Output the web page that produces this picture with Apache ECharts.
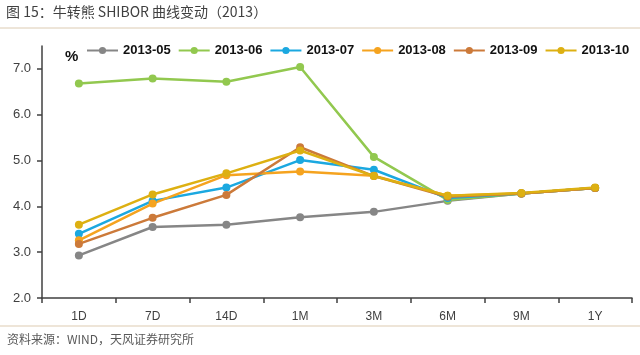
<!DOCTYPE html>
<html>
<head>
<meta charset="utf-8">
<script src="https://cdn.jsdelivr.net/npm/echarts@6/dist/echarts.min.js"></script>
<style>
html,body{margin:0;padding:0;background:#fff;}
#main{width:640px;height:355px;}
</style>
</head>
<body>
<div id="main"></div>
<script>
const categories = ['1D','7D','14D','1M','3M','6M','9M','1Y'];
const seriesNames = ['2013-05','2013-06','2013-07','2013-08','2013-09','2013-10'];
const s201305 = [2.93, 3.55, 3.60, 3.76, 3.88, 4.12, 4.28, 4.40];
const s201306 = [6.68, 6.79, 6.72, 7.04, 5.08, 4.14, 4.28, 4.40];
const s201307 = [3.40, 4.12, 4.41, 5.01, 4.80, 4.18, 4.28, 4.40];
const s201308 = [3.26, 4.06, 4.68, 4.76, 4.67, 4.23, 4.28, 4.40];
const s201309 = [3.18, 3.75, 4.25, 5.29, 4.66, 4.21, 4.28, 4.40];
const s201310 = [3.60, 4.26, 4.72, 5.22, 4.66, 4.23, 4.29, 4.41];
const yTicks = [2, 3, 4, 5, 6, 7];
const titleText = '图 15：牛转熊 SHIBOR 曲线变动（2013）';
const sourceText = '资料来源：WIND，天风证券研究所';

const colors = ['#868686', '#92c84f', '#1ba8e0', '#f5a31f', '#cc7a3a', '#ddb012'];
const allData = [s201305, s201306, s201307, s201308, s201309, s201310];

const chart = echarts.init(document.getElementById('main'), null, {renderer: 'canvas'});
chart.setOption({
  animation: false,
  backgroundColor: '#fff',
  color: colors,
  grid: {left: 42, right: 8, top: 46, bottom: 57, containLabel: false},
  legend: {
    left: 86, top: 44, width: 556, padding: 0,
    itemWidth: 31, itemHeight: 9, itemGap: 7,
    textStyle: {fontFamily: 'Liberation Sans', fontWeight: 'bold', fontSize: 13, color: '#111'},
    data: seriesNames
  },
  graphic: [
    {type: 'text', left: 6, top: 5, style: {text: titleText, fontFamily: 'Noto Sans CJK SC', fontSize: 14, fill: '#404040'}},
    {type: 'line', shape: {x1: 0, y1: 28, x2: 640, y2: 28}, style: {stroke: '#dccbb2', lineWidth: 1}},
    {type: 'line', shape: {x1: 0, y1: 326, x2: 640, y2: 326}, style: {stroke: '#e8dccb', lineWidth: 1.5}},
    {type: 'text', left: 7, top: 333, style: {text: sourceText, fontFamily: 'Noto Sans CJK SC', fontSize: 12, fill: '#595959'}},
    {type: 'text', left: 65, top: 49, style: {text: '%', fontFamily: 'Liberation Sans', fontWeight: 'bold', fontSize: 15, fill: '#111'}}
  ],
  xAxis: {
    type: 'category',
    data: categories,
    boundaryGap: true,
    axisLine: {lineStyle: {color: '#404040', width: 1.5}},
    axisTick: {show: true, length: 5, lineStyle: {color: '#404040', width: 1.5}},
    axisLabel: {margin: 13, fontFamily: 'Liberation Sans', fontSize: 12, color: '#404040'},
    splitLine: {show: false}
  },
  yAxis: {
    type: 'value',
    min: 2, max: 7.5, interval: 1,
    axisLine: {show: true, lineStyle: {color: '#404040', width: 1.5}},
    axisTick: {show: true, length: 5, customValues: yTicks, lineStyle: {color: '#404040', width: 1.5}},
    axisLabel: {customValues: yTicks, margin: 11, fontFamily: 'Liberation Sans', fontSize: 13, color: '#404040',
      formatter: v => Number(v).toFixed(1)},
    splitLine: {show: false}
  },
  series: seriesNames.map((n, i) => ({
    name: n,
    type: 'line',
    data: allData[i],
    symbol: 'circle',
    symbolSize: 8,
    lineStyle: {width: 2.5, color: colors[i]},
    itemStyle: {color: colors[i]}
  }))
});
</script>
</body>
</html>
